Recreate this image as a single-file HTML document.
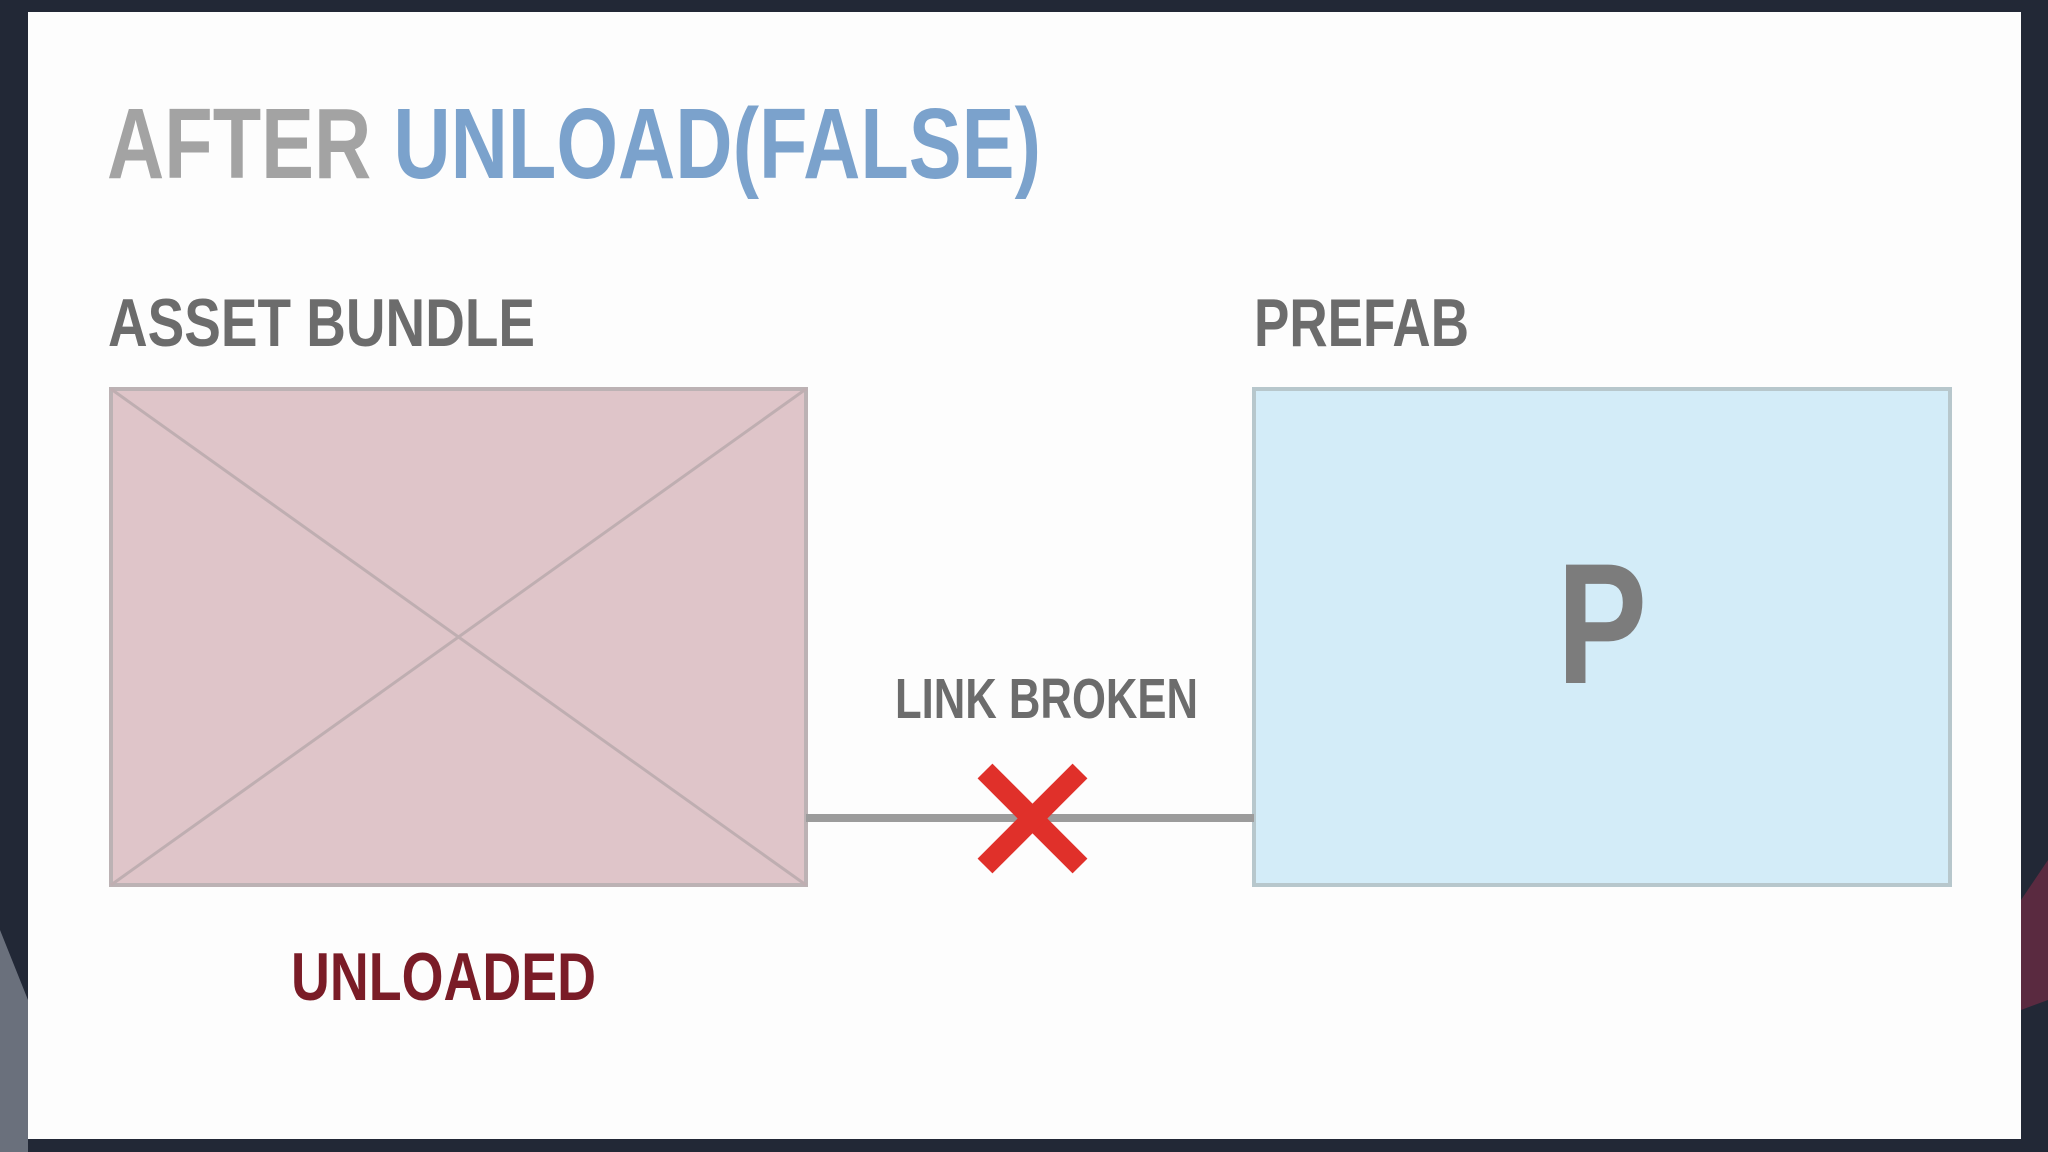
<!DOCTYPE html>
<html><head><meta charset="utf-8"><style>
html,body{margin:0;padding:0;background:#222836;}
svg{display:block}
text{font-family:"Liberation Sans Narrow","Liberation Sans",sans-serif;font-weight:bold}
</style></head><body>
<svg width="2048" height="1152" viewBox="0 0 2048 1152" xmlns="http://www.w3.org/2000/svg">
<rect width="2048" height="1152" fill="#222836"/>
<polygon points="0,930 28,1000 28,1152 0,1152" fill="#6a707c"/>
<polygon points="2021,900 2048,860 2048,1000 2021,1010" fill="#5a2a40"/>
<rect x="28" y="12" width="1993" height="1127" fill="#fdfdfd"/>
<text x="107" y="178" font-size="100" textLength="934" lengthAdjust="spacingAndGlyphs" fill="#a3a3a3">AFTER <tspan fill="#7ba2cc">UNLOAD(FALSE)</tspan></text>
<text x="108" y="346" font-size="68" textLength="427" lengthAdjust="spacingAndGlyphs" fill="#6c6c6c">ASSET BUNDLE</text>
<text x="1254" y="346" font-size="68" textLength="215" lengthAdjust="spacingAndGlyphs" fill="#6c6c6c">PREFAB</text>
<rect x="111" y="389" width="695" height="496" fill="#dfc5c9" stroke="#bcb2b4" stroke-width="4"/>
<line x1="111" y1="389" x2="806" y2="885" stroke="#bfaeb1" stroke-width="3"/>
<line x1="806" y1="389" x2="111" y2="885" stroke="#bfaeb1" stroke-width="3"/>
<rect x="1254" y="389" width="696" height="496" fill="#d3ecf8" stroke="#b7c7cc" stroke-width="4"/>
<text x="1557" y="683" font-size="172" textLength="90" lengthAdjust="spacingAndGlyphs" fill="#7c7c7c">P</text>
<text x="895" y="718" font-size="57" textLength="303" lengthAdjust="spacingAndGlyphs" fill="#6c6c6c">LINK BROKEN</text>
<line x1="806" y1="818" x2="1254" y2="818" stroke="#9c9c9c" stroke-width="8"/>
<line x1="985" y1="771" x2="1080" y2="866" stroke="#e0302a" stroke-width="21"/>
<line x1="1080" y1="771" x2="985" y2="866" stroke="#e0302a" stroke-width="21"/>
<text x="291" y="1000" font-size="68" textLength="305" lengthAdjust="spacingAndGlyphs" fill="#7a1c27">UNLOADED</text>
</svg>
</body></html>
